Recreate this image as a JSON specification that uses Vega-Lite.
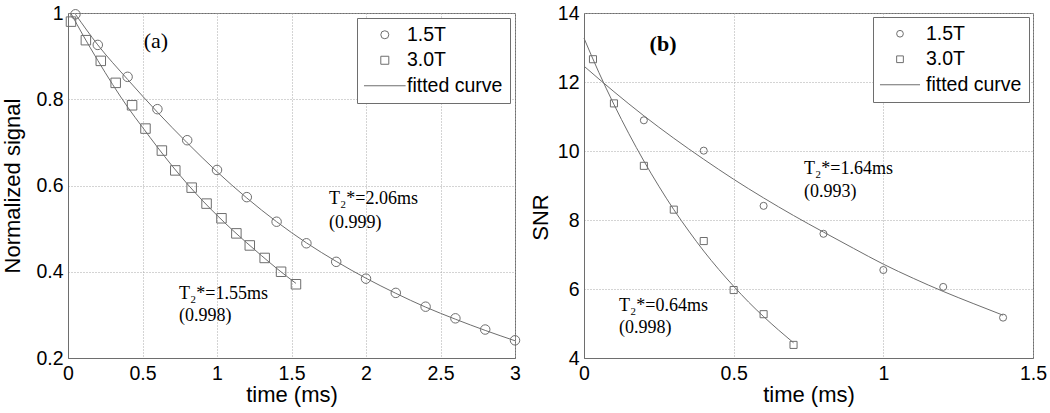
{
  "$schema": "https://vega.github.io/schema/vega-lite/v6.json",
  "background": "white",
  "padding": {"left": 0, "top": 2, "right": 5, "bottom": 5},
  "datasets": {
    "markers": [
      {"panel": "a", "series": "1.5T", "t": 0.05, "v": 0.997},
      {"panel": "a", "series": "1.5T", "t": 0.2, "v": 0.926},
      {"panel": "a", "series": "1.5T", "t": 0.4, "v": 0.852},
      {"panel": "a", "series": "1.5T", "t": 0.6, "v": 0.777},
      {"panel": "a", "series": "1.5T", "t": 0.8, "v": 0.705},
      {"panel": "a", "series": "1.5T", "t": 1.0, "v": 0.636},
      {"panel": "a", "series": "1.5T", "t": 1.2, "v": 0.573},
      {"panel": "a", "series": "1.5T", "t": 1.4, "v": 0.516},
      {"panel": "a", "series": "1.5T", "t": 1.6, "v": 0.466},
      {"panel": "a", "series": "1.5T", "t": 1.8, "v": 0.423},
      {"panel": "a", "series": "1.5T", "t": 2.0, "v": 0.384},
      {"panel": "a", "series": "1.5T", "t": 2.2, "v": 0.351},
      {"panel": "a", "series": "1.5T", "t": 2.4, "v": 0.319},
      {"panel": "a", "series": "1.5T", "t": 2.6, "v": 0.292},
      {"panel": "a", "series": "1.5T", "t": 2.8, "v": 0.266},
      {"panel": "a", "series": "1.5T", "t": 3.0, "v": 0.241},
      {"panel": "a", "series": "3.0T", "t": 0.02, "v": 0.980},
      {"panel": "a", "series": "3.0T", "t": 0.12, "v": 0.937},
      {"panel": "a", "series": "3.0T", "t": 0.22, "v": 0.889},
      {"panel": "a", "series": "3.0T", "t": 0.32, "v": 0.838},
      {"panel": "a", "series": "3.0T", "t": 0.43, "v": 0.786},
      {"panel": "a", "series": "3.0T", "t": 0.52, "v": 0.732},
      {"panel": "a", "series": "3.0T", "t": 0.63, "v": 0.681},
      {"panel": "a", "series": "3.0T", "t": 0.72, "v": 0.635},
      {"panel": "a", "series": "3.0T", "t": 0.83, "v": 0.595},
      {"panel": "a", "series": "3.0T", "t": 0.93, "v": 0.558},
      {"panel": "a", "series": "3.0T", "t": 1.03, "v": 0.524},
      {"panel": "a", "series": "3.0T", "t": 1.13, "v": 0.489},
      {"panel": "a", "series": "3.0T", "t": 1.22, "v": 0.461},
      {"panel": "a", "series": "3.0T", "t": 1.32, "v": 0.432},
      {"panel": "a", "series": "3.0T", "t": 1.43, "v": 0.400},
      {"panel": "a", "series": "3.0T", "t": 1.53, "v": 0.371},
      {"panel": "b", "series": "1.5T", "t": 0.2, "v": 10.89},
      {"panel": "b", "series": "1.5T", "t": 0.4, "v": 10.01},
      {"panel": "b", "series": "1.5T", "t": 0.6, "v": 8.41},
      {"panel": "b", "series": "1.5T", "t": 0.8, "v": 7.60},
      {"panel": "b", "series": "1.5T", "t": 1.0, "v": 6.55},
      {"panel": "b", "series": "1.5T", "t": 1.2, "v": 6.06},
      {"panel": "b", "series": "1.5T", "t": 1.4, "v": 5.17},
      {"panel": "b", "series": "3.0T", "t": 0.03, "v": 12.66},
      {"panel": "b", "series": "3.0T", "t": 0.1, "v": 11.38},
      {"panel": "b", "series": "3.0T", "t": 0.2, "v": 9.57},
      {"panel": "b", "series": "3.0T", "t": 0.3, "v": 8.30},
      {"panel": "b", "series": "3.0T", "t": 0.4, "v": 7.39},
      {"panel": "b", "series": "3.0T", "t": 0.5, "v": 5.97},
      {"panel": "b", "series": "3.0T", "t": 0.6, "v": 5.27},
      {"panel": "b", "series": "3.0T", "t": 0.7, "v": 4.38}
    ],
    "fits": [
      {"panel": "a", "series": "1.5T", "t": 0.05, "v": 0.997},
      {"panel": "a", "series": "1.5T", "t": 0.2, "v": 0.926},
      {"panel": "a", "series": "1.5T", "t": 0.4, "v": 0.846},
      {"panel": "a", "series": "1.5T", "t": 0.6, "v": 0.770},
      {"panel": "a", "series": "1.5T", "t": 0.8, "v": 0.699},
      {"panel": "a", "series": "1.5T", "t": 1.0, "v": 0.632},
      {"panel": "a", "series": "1.5T", "t": 1.2, "v": 0.571},
      {"panel": "a", "series": "1.5T", "t": 1.4, "v": 0.516},
      {"panel": "a", "series": "1.5T", "t": 1.6, "v": 0.467},
      {"panel": "a", "series": "1.5T", "t": 1.8, "v": 0.424},
      {"panel": "a", "series": "1.5T", "t": 2.0, "v": 0.385},
      {"panel": "a", "series": "1.5T", "t": 2.2, "v": 0.350},
      {"panel": "a", "series": "1.5T", "t": 2.4, "v": 0.318},
      {"panel": "a", "series": "1.5T", "t": 2.6, "v": 0.290},
      {"panel": "a", "series": "1.5T", "t": 2.8, "v": 0.264},
      {"panel": "a", "series": "1.5T", "t": 3.0, "v": 0.240},
      {"panel": "a", "series": "3.0T", "t": 0.02, "v": 0.999},
      {"panel": "a", "series": "3.0T", "t": 0.1, "v": 0.949},
      {"panel": "a", "series": "3.0T", "t": 0.2, "v": 0.890},
      {"panel": "a", "series": "3.0T", "t": 0.3, "v": 0.834},
      {"panel": "a", "series": "3.0T", "t": 0.4, "v": 0.782},
      {"panel": "a", "series": "3.0T", "t": 0.5, "v": 0.735},
      {"panel": "a", "series": "3.0T", "t": 0.6, "v": 0.689},
      {"panel": "a", "series": "3.0T", "t": 0.7, "v": 0.645},
      {"panel": "a", "series": "3.0T", "t": 0.8, "v": 0.604},
      {"panel": "a", "series": "3.0T", "t": 0.9, "v": 0.566},
      {"panel": "a", "series": "3.0T", "t": 1.0, "v": 0.531},
      {"panel": "a", "series": "3.0T", "t": 1.1, "v": 0.498},
      {"panel": "a", "series": "3.0T", "t": 1.2, "v": 0.467},
      {"panel": "a", "series": "3.0T", "t": 1.3, "v": 0.437},
      {"panel": "a", "series": "3.0T", "t": 1.4, "v": 0.408},
      {"panel": "a", "series": "3.0T", "t": 1.53, "v": 0.373},
      {"panel": "b", "series": "1.5T", "t": 0.0, "v": 12.46},
      {"panel": "b", "series": "1.5T", "t": 0.1, "v": 11.72},
      {"panel": "b", "series": "1.5T", "t": 0.2, "v": 11.02},
      {"panel": "b", "series": "1.5T", "t": 0.3, "v": 10.37},
      {"panel": "b", "series": "1.5T", "t": 0.4, "v": 9.76},
      {"panel": "b", "series": "1.5T", "t": 0.5, "v": 9.18},
      {"panel": "b", "series": "1.5T", "t": 0.6, "v": 8.64},
      {"panel": "b", "series": "1.5T", "t": 0.7, "v": 8.13},
      {"panel": "b", "series": "1.5T", "t": 0.8, "v": 7.65},
      {"panel": "b", "series": "1.5T", "t": 0.9, "v": 7.18},
      {"panel": "b", "series": "1.5T", "t": 1.0, "v": 6.72},
      {"panel": "b", "series": "1.5T", "t": 1.1, "v": 6.31},
      {"panel": "b", "series": "1.5T", "t": 1.2, "v": 5.93},
      {"panel": "b", "series": "1.5T", "t": 1.3, "v": 5.58},
      {"panel": "b", "series": "1.5T", "t": 1.4, "v": 5.24},
      {"panel": "b", "series": "3.0T", "t": 0.0, "v": 13.27},
      {"panel": "b", "series": "3.0T", "t": 0.05, "v": 12.27},
      {"panel": "b", "series": "3.0T", "t": 0.1, "v": 11.35},
      {"panel": "b", "series": "3.0T", "t": 0.15, "v": 10.50},
      {"panel": "b", "series": "3.0T", "t": 0.2, "v": 9.71},
      {"panel": "b", "series": "3.0T", "t": 0.25, "v": 8.98},
      {"panel": "b", "series": "3.0T", "t": 0.3, "v": 8.30},
      {"panel": "b", "series": "3.0T", "t": 0.35, "v": 7.68},
      {"panel": "b", "series": "3.0T", "t": 0.4, "v": 7.10},
      {"panel": "b", "series": "3.0T", "t": 0.45, "v": 6.57},
      {"panel": "b", "series": "3.0T", "t": 0.5, "v": 6.08},
      {"panel": "b", "series": "3.0T", "t": 0.55, "v": 5.62},
      {"panel": "b", "series": "3.0T", "t": 0.6, "v": 5.20},
      {"panel": "b", "series": "3.0T", "t": 0.65, "v": 4.81},
      {"panel": "b", "series": "3.0T", "t": 0.7, "v": 4.44}
    ],
    "notes": [
      {"panel": "a", "label": "T₂*=2.06ms", "t": 1.752, "v": 0.569},
      {"panel": "a", "label": "(0.999)", "t": 1.752, "v": 0.513},
      {"panel": "a", "label": "T₂*=1.55ms", "t": 0.745, "v": 0.348},
      {"panel": "a", "label": "(0.998)", "t": 0.745, "v": 0.297},
      {"panel": "b", "label": "T₂*=1.64ms", "t": 0.735, "v": 9.48},
      {"panel": "b", "label": "(0.993)", "t": 0.735, "v": 8.81},
      {"panel": "b", "label": "T₂*=0.64ms", "t": 0.117, "v": 5.51},
      {"panel": "b", "label": "(0.998)", "t": 0.117, "v": 4.87}
    ],
    "tags": [
      {"panel": "a", "label": "(a)", "t": 0.59, "v": 0.935},
      {"panel": "b", "label": "(b)", "t": 0.264, "v": 13.10}
    ]
  },
  "hconcat": [
    {
      "width": 447,
      "height": 345,
      "layer": [
        {
          "data": {"name": "fits"},
          "transform": [{"filter": "datum.panel == 'a'"}],
          "mark": {"type": "line", "color": "#6e6e6e", "strokeWidth": 1, "interpolate": "monotone"},
          "encoding": {
            "x": {"field": "t", "type": "quantitative", "scale": {"domain": [0, 3], "nice": false, "zero": false},
              "axis": {"title": "time (ms)", "values": [0, 0.5, 1, 1.5, 2, 2.5, 3], "format": "~g"}},
            "y": {"field": "v", "type": "quantitative", "scale": {"domain": [0.2, 1], "nice": false, "zero": false},
              "axis": {"title": "Normalized signal", "values": [0.2, 0.4, 0.6, 0.8, 1], "format": "~g", "minExtent": 37, "maxExtent": 37, "titlePadding": 7}},
            "detail": {"field": "series"}
          }
        },
        {
          "data": {"name": "markers"},
          "transform": [{"filter": "datum.panel == 'a'"}],
          "mark": {"type": "point", "filled": false, "color": "#6e6e6e", "strokeWidth": 1, "size": 90, "opacity": 1},
          "encoding": {
            "x": {"field": "t", "type": "quantitative"},
            "y": {"field": "v", "type": "quantitative"},
            "shape": {"field": "series", "type": "nominal",
              "scale": {"domain": ["1.5T", "3.0T", "fitted curve"], "range": ["circle", "square", "M-5.2,0H5.2"]},
              "legend": {"orient": "top-right", "offset": 5, "title": null, "padding": 7, "rowPadding": 4.5,
                "symbolSize": 64, "symbolOffset": 11.05, "labelOffset": 12.45}}
          }
        },
        {
          "data": {"name": "notes"},
          "transform": [{"filter": "datum.panel == 'a'"}],
          "mark": {"type": "text", "font": "Liberation Serif", "fontSize": 18, "align": "left", "baseline": "middle", "color": "#000000"},
          "encoding": {
            "x": {"field": "t", "type": "quantitative"},
            "y": {"field": "v", "type": "quantitative"},
            "text": {"field": "label"}
          }
        },
        {
          "data": {"name": "tags"},
          "transform": [{"filter": "datum.panel == 'a'"}],
          "mark": {"type": "text", "font": "Liberation Serif", "fontSize": 22, "align": "center", "baseline": "middle", "color": "#000000"},
          "encoding": {
            "x": {"field": "t", "type": "quantitative"},
            "y": {"field": "v", "type": "quantitative"},
            "text": {"field": "label"}
          }
        }
      ]
    },
    {
      "width": 449,
      "height": 345,
      "layer": [
        {
          "data": {"name": "fits"},
          "transform": [{"filter": "datum.panel == 'b'"}],
          "mark": {"type": "line", "color": "#6e6e6e", "strokeWidth": 1, "interpolate": "monotone"},
          "encoding": {
            "x": {"field": "t", "type": "quantitative", "scale": {"domain": [0, 1.5], "nice": false, "zero": false},
              "axis": {"title": "time (ms)", "values": [0, 0.5, 1, 1.5], "format": "~g"}},
            "y": {"field": "v", "type": "quantitative", "scale": {"domain": [4, 14], "nice": false, "zero": false},
              "axis": {"title": "SNR", "values": [4, 6, 8, 10, 12, 14], "format": "~g", "minExtent": 27, "maxExtent": 27, "titleY": 204}},
            "detail": {"field": "series"}
          }
        },
        {
          "data": {"name": "markers"},
          "transform": [{"filter": "datum.panel == 'b'"}],
          "mark": {"type": "point", "filled": false, "color": "#6e6e6e", "strokeWidth": 1, "size": 50, "opacity": 1},
          "encoding": {
            "x": {"field": "t", "type": "quantitative"},
            "y": {"field": "v", "type": "quantitative"},
            "shape": {"field": "series", "type": "nominal",
              "scale": {"domain": ["1.5T", "3.0T", "fitted curve"], "range": ["circle", "square", "M-5.97,0H5.97"]},
              "legend": {"orient": "top-right", "offset": 4, "title": null, "padding": 7, "rowPadding": 4.5,
                "symbolSize": 45, "symbolOffset": 10.25, "labelOffset": 16.25}}
          }
        },
        {
          "data": {"name": "notes"},
          "transform": [{"filter": "datum.panel == 'b'"}],
          "mark": {"type": "text", "font": "Liberation Serif", "fontSize": 18, "align": "left", "baseline": "middle", "color": "#000000"},
          "encoding": {
            "x": {"field": "t", "type": "quantitative"},
            "y": {"field": "v", "type": "quantitative"},
            "text": {"field": "label"}
          }
        },
        {
          "data": {"name": "tags"},
          "transform": [{"filter": "datum.panel == 'b'"}],
          "mark": {"type": "text", "font": "Liberation Serif", "fontSize": 22, "fontWeight": "bold", "align": "center", "baseline": "middle", "color": "#000000"},
          "encoding": {
            "x": {"field": "t", "type": "quantitative"},
            "y": {"field": "v", "type": "quantitative"},
            "text": {"field": "label"}
          }
        }
      ]
    }
  ],
  "spacing": 69,
  "bounds": "flush",
  "resolve": {"scale": {"shape": "independent"}, "legend": {"shape": "independent"}},
  "config": {
    "view": {"stroke": "#6e6e6e", "strokeWidth": 1},
    "axis": {
      "domainColor": "#6e6e6e",
      "labelFont": "Liberation Sans",
      "labelFontSize": 19.5,
      "labelColor": "#000000",
      "labelPadding": 5,
      "labelFlush": false,
      "labelOverlap": false,
      "titleFont": "Liberation Sans",
      "titleFontSize": 22,
      "titleFontWeight": "normal",
      "titleColor": "#000000",
      "titlePadding": 5,
      "ticks": false,
      "tickSize": 0,
      "gridColor": "#a8a8a8",
      "gridDash": [1, 2],
      "gridWidth": 1
    },
    "axisX": {"labelPadding": 6, "titlePadding": 2},
    "legend": {
      "labelFont": "Liberation Sans",
      "labelFontSize": 19.5,
      "labelColor": "#000000",
      "fillColor": "#ffffff",
      "strokeColor": "#6e6e6e",
      "cornerRadius": 0,
      "symbolStrokeWidth": 1
    }
  }
}
